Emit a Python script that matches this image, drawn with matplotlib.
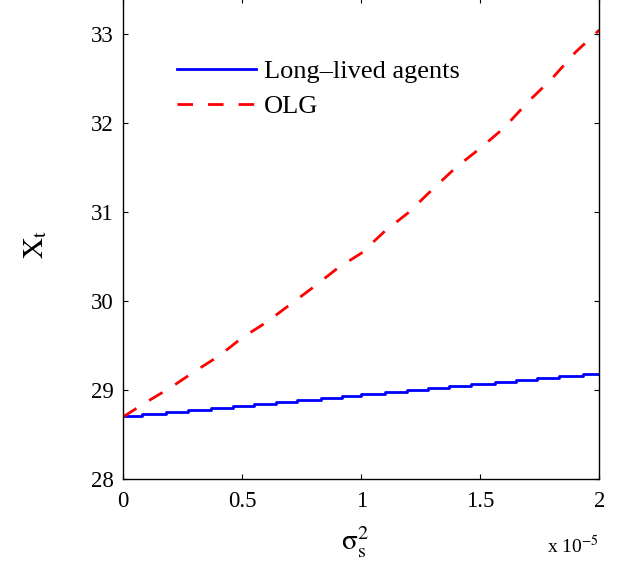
import numpy as np
from matplotlib import pyplot as plt

plt.rcParams['font.family'] = ['Liberation Serif', 'DejaVu Serif']
plt.rcParams['mathtext.fontset'] = 'stix'

# x values shown in units of 1e-5
# long-lived agents: staircase (step start positions and levels)
long_x = [0, 0.08, 0.18, 0.27, 0.37, 0.46, 0.55, 0.64, 0.73, 0.83, 0.92, 1.0,
          1.1, 1.19, 1.28, 1.37, 1.46, 1.56, 1.65, 1.74, 1.83, 1.93, 2.0]
long_y = [28.71, 28.73, 28.755, 28.78, 28.80, 28.82, 28.845, 28.87, 28.89, 28.91,
          28.935, 28.96, 28.98, 29.0, 29.025, 29.05, 29.07, 29.09, 29.115,
          29.135, 29.16, 29.18, 29.18]

olg_x = [0, 0.1, 0.2, 0.3, 0.4, 0.5, 0.6, 0.7, 0.8, 0.9, 1.0,
         1.1, 1.2, 1.3, 1.4, 1.5, 1.6, 1.7, 1.8, 1.9, 2.0]
olg_y = [28.70, 28.87, 29.03, 29.21, 29.38, 29.59, 29.76, 29.96, 30.16, 30.37, 30.54,
         30.79, 31.00, 31.26, 31.51, 31.72, 31.95, 32.24, 32.50, 32.80, 33.05]

xticks = [0, 0.5, 1, 1.5, 2]
xticklabels = ['0', '0.5', '1', '1.5', '2']
yticks = [28, 29, 30, 31, 32, 33]

fig = plt.figure(figsize=(6.18, 5.69), dpi=100)
ax = fig.add_axes([0.1995, 0.1582, 0.7702, 0.8453])

ax.plot(long_x, long_y, color='#0000ff', lw=2.0, drawstyle='steps-post',
        label='Long\u2013lived agents')
ax.plot(olg_x, olg_y, color='#ff0000', lw=2.0, dashes=(5.6, 5.4), label='OLG')

ax.set_xlim(0, 2)
ax.set_ylim(28, 33.41)
ax.set_xticks(xticks)
ax.set_xticklabels(xticklabels)
ax.set_yticks(yticks)
ax.tick_params(direction='in', length=3.6, width=0.8, labelsize=16.5,
               top=True, right=True, pad=7)
ax.tick_params(axis='x', pad=9)
for s in ax.spines.values():
    s.set_linewidth(1.0)

ax.legend(loc='upper left', bbox_to_anchor=(0.1125, 0.872), frameon=False,
          fontsize=19, borderpad=0, borderaxespad=0, handlelength=3.0,
          handletextpad=0.3, labelspacing=0.45)

fig.text(0.574, 0.0334, r'$\mathrm{σ}_\mathrm{s}^\mathrm{2}$', fontsize=21,
         ha='center', va='baseline')
fig.text(0.057, 0.57, r'$\mathrm{X}_\mathrm{t}$', fontsize=21, rotation=90,
         ha='center', va='center')
fig.text(0.885, 0.028, r'x 10$^{-5}$', fontsize=14, ha='left', va='baseline')

fig.savefig('out.png', dpi=100)
